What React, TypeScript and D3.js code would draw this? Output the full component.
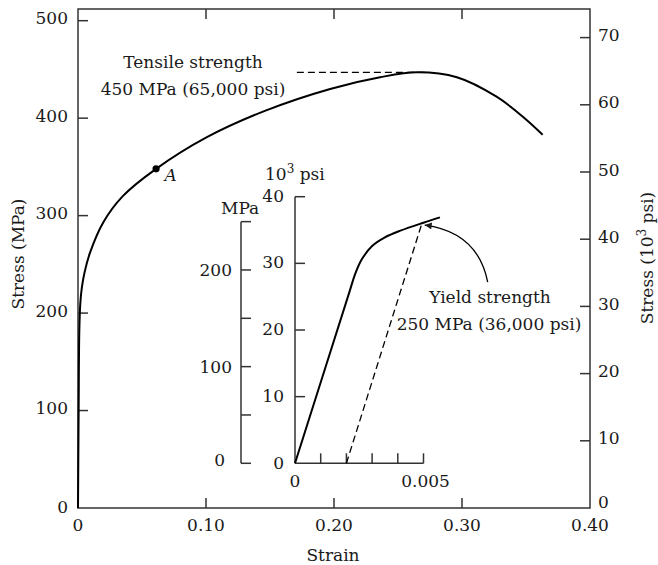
import * as d3 from "d3";

// main stress-strain curve (engineering strain, MPa)
const mainStrain = [0, 0.0005, 0.001, 0.0018, 0.003, 0.005, 0.0094, 0.0197, 0.035, 0.061, 0.1, 0.147, 0.197, 0.236, 0.265, 0.296, 0.327, 0.348, 0.363];
const mainStress = [0, 100, 180, 210, 226, 241, 262, 293, 320, 348, 380, 408, 430, 442, 447, 442, 422, 401, 383];

// inset: initial part of the curve (strain, 10^3 psi)
const insetStrain = [0, 0.0021, 0.00235, 0.0026, 0.003, 0.0035, 0.0041, 0.005, 0.00564];
const insetKsi = [0, 25.5, 28.5, 30.6, 32.6, 33.9, 34.9, 36.1, 36.9];

// 0.2% offset line in the inset
const offsetStrain = [0.002, 0.00493];
const offsetKsi = [0, 35.9];

// tensile strength dashed line
const tensileStrain = [0.171, 0.272];
const tensileStress = [447, 447];

// point A
const pointA = [0.061, 348];

// ticks
const strainTicks = [0, 0.1, 0.2, 0.3, 0.4];
const strainLabels = ["0", "0.10", "0.20", "0.30", "0.40"];
const mpaTicks = [0, 100, 200, 300, 400, 500];
const ksiTicks = [0, 10, 20, 30, 40, 50, 60, 70];
const insetStrainTicks = [0.001, 0.002, 0.003, 0.004, 0.005];
const insetStrainLabels = [0, 0.005];
const insetKsiTicks = [0, 10, 20, 30, 40];
const insetMpaTicks = [0, 50, 100, 150, 200, 250];
const insetMpaLabels = [0, 100, 200];

const MPA_PER_KSI = 6.895;
const W = 658;
const H = 565;
const font = "DejaVu Serif";
const fs = 17;
const ink = "#1a1a1a";
const axisInk = "#333";

export default function App() {
  // main axes
  const x = d3.scaleLinear([0, 0.4], [78, 590]);
  const y = d3.scaleLinear([0, 512], [508, 9]);
  const yKsi = d3.scaleLinear([0, 512 / MPA_PER_KSI], [508, 9]);

  // inset axes
  const ix = d3.scaleLinear([0, 0.005], [295, 423.5]);
  const iy = d3.scaleLinear([0, 40], [463.3, 196.7]);
  const iyMpa = d3.scaleLinear([0, 40 * MPA_PER_KSI], [463.3, 196.7]);
  const mpaAxisX = 241;

  const mainLine = d3.line<number>()
    .x((d, i) => x(mainStrain[i]))
    .y((d) => y(d))
    .curve(d3.curveCatmullRom.alpha(0.5));

  const insetLine = d3.line<number>()
    .x((d, i) => ix(insetStrain[i]))
    .y((d) => iy(d))
    .curve(d3.curveCatmullRom.alpha(0.5));

  const x0 = x.range()[0], x1 = x.range()[1];
  const y0 = y.range()[0], y1 = y.range()[1];
  const tick = 10;

  // arrow from the label to the yield point
  const tipX = ix(offsetStrain[1]) + 3;
  const tipY = iy(offsetKsi[1]) + 1;
  const arrowPath = `M${tipX + 63},${tipY + 57} Q${tipX + 53},${tipY + 7} ${tipX},${tipY}`;

  return (
    <svg width={W} height={H} style={{ position: "absolute", left: 0, top: 0, background: "#fff" }}
      fontFamily={font} fontSize={fs} fill={ink}>
      <defs>
        <marker id="arrowhead" viewBox="0 0 10 10" refX="10" refY="5" markerWidth="9" markerHeight="7"
          markerUnits="userSpaceOnUse" orient="auto">
          <path d="M0,0 L10,5 L0,10 z" fill={ink} />
        </marker>
      </defs>

      {/* frame */}
      <rect x={x0} y={y1} width={x1 - x0} height={y0 - y1} fill="none" stroke={axisInk} strokeWidth={1.5} />

      {/* left MPa ticks */}
      {mpaTicks.map((t) => (
        <g key={"m" + t}>
          {t > 0 && <line x1={x0} x2={x0 + tick} y1={y(t)} y2={y(t)} stroke={axisInk} strokeWidth={1.5} />}
          <text x={68} y={y(t) + (t === 0 ? 4.5 : 3.5)} textAnchor="end">{t}</text>
        </g>
      ))}

      {/* right ksi ticks */}
      {ksiTicks.map((t) => (
        <g key={"k" + t}>
          {t > 0 && <line x1={x1 - tick} x2={x1} y1={yKsi(t)} y2={yKsi(t)} stroke={axisInk} strokeWidth={1.5} />}
          <text x={598} y={t === 0 ? yKsi(t) - 0.5 : yKsi(t) + 3.5}>{t}</text>
        </g>
      ))}

      {/* strain ticks top and bottom */}
      {strainTicks.map((t, i) => (
        <g key={"s" + t}>
          {t > 0 && t < 0.4 && (
            <>
              <line x1={x(t)} x2={x(t)} y1={y0} y2={y0 - tick} stroke={axisInk} strokeWidth={1.5} />
              <line x1={x(t)} x2={x(t)} y1={y1} y2={y1 + tick} stroke={axisInk} strokeWidth={1.5} />
            </>
          )}
          <text x={x(t)} y={531} textAnchor="middle">{strainLabels[i]}</text>
        </g>
      ))}

      {/* axis titles */}
      <text x={333} y={561} textAnchor="middle">Strain</text>
      <text transform="translate(24,254) rotate(-90)" textAnchor="middle">Stress (MPa)</text>
      <text transform="translate(653,258) rotate(-90)" textAnchor="middle">
        Stress (10<tspan dy={-7} fontSize={12}>3</tspan><tspan dy={7}> psi)</tspan>
      </text>

      {/* main curve */}
      <path d={mainLine(mainStress) ?? ""} fill="none" stroke="#000" strokeWidth={2} />
      <line x1={x(tensileStrain[0])} x2={x(tensileStrain[1])} y1={y(tensileStress[0])} y2={y(tensileStress[1])}
        stroke="#000" strokeWidth={1.3} strokeDasharray="7,4" />
      <circle cx={x(pointA[0])} cy={y(pointA[1])} r={3.6} fill="#000" />
      <text x={x(pointA[0]) + 8.5} y={y(pointA[1]) + 12} fontStyle="italic">A</text>

      <text x={193} y={68} textAnchor="middle">Tensile strength</text>
      <text x={193} y={95} textAnchor="middle">450 MPa (65,000 psi)</text>

      {/* inset axes */}
      <line x1={ix(0)} x2={ix(0)} y1={iy(0)} y2={iy(40)} stroke={axisInk} strokeWidth={1.5} />
      <line x1={ix(0)} x2={ix(0.005)} y1={iy(0)} y2={iy(0)} stroke={axisInk} strokeWidth={1.5} />
      {insetKsiTicks.map((t) => (
        <g key={"ik" + t}>
          {t > 0 && <line x1={ix(0)} x2={ix(0) + tick} y1={iy(t)} y2={iy(t)} stroke={axisInk} strokeWidth={1.5} />}
          <text x={284} y={iy(t) + (t === 0 ? 6 : 5)} textAnchor="end">{t}</text>
        </g>
      ))}
      {insetStrainTicks.map((t) => (
        <line key={"is" + t} x1={ix(t)} x2={ix(t)} y1={iy(0)} y2={iy(0) - tick} stroke={axisInk} strokeWidth={1.5} />
      ))}
      {insetStrainLabels.map((t) => (
        <text key={"isl" + t} x={ix(t) + (t === 0 ? 0 : 2)} y={487} textAnchor="middle">{t}</text>
      ))}

      <line x1={mpaAxisX} x2={mpaAxisX} y1={iyMpa(0)} y2={iyMpa(250)} stroke={axisInk} strokeWidth={1.5} />
      {insetMpaTicks.map((t) => (
        <line key={"im" + t} x1={mpaAxisX} x2={mpaAxisX + tick} y1={iyMpa(t)} y2={iyMpa(t)} stroke={axisInk} strokeWidth={1.5} />
      ))}
      {insetMpaLabels.map((t) => (
        <text key={"iml" + t} x={t === 0 ? 225 : 232} y={iyMpa(t) + (t === 0 ? 3 : 6)} textAnchor="end">{t}</text>
      ))}

      <text x={221} y={214}>MPa</text>
      <text x={265} y={180}>10<tspan dy={-7} fontSize={12}>3</tspan><tspan dy={7}> psi</tspan></text>

      {/* inset curve */}
      <path d={insetLine(insetKsi) ?? ""} fill="none" stroke="#000" strokeWidth={2} />
      <line x1={ix(offsetStrain[0])} x2={ix(offsetStrain[1])} y1={iy(offsetKsi[0])} y2={iy(offsetKsi[1])}
        stroke="#000" strokeWidth={1.3} strokeDasharray="7,4" />
      <path d={arrowPath} fill="none" stroke="#000" strokeWidth={1.3} markerEnd="url(#arrowhead)" />

      <text x={490} y={303} textAnchor="middle">Yield strength</text>
      <text x={489} y={330} textAnchor="middle">250 MPa (36,000 psi)</text>
    </svg>
  );
}
